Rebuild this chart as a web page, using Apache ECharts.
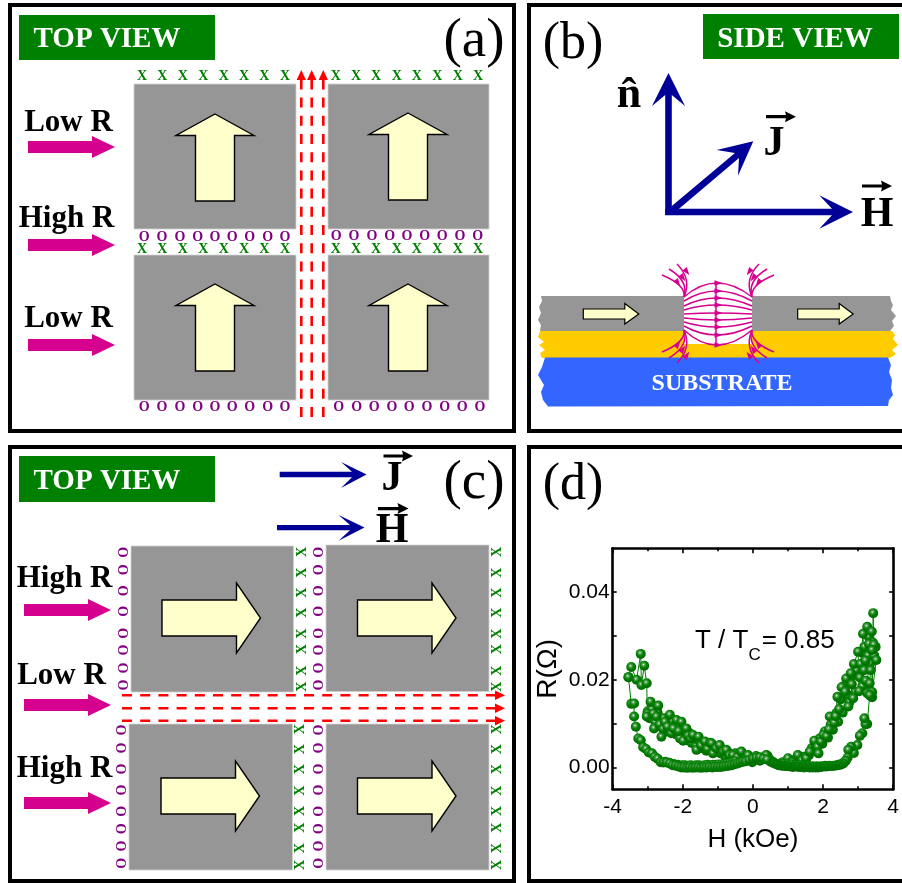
<!DOCTYPE html>
<html><head><meta charset="utf-8">
<style>html,body{margin:0;padding:0;background:#fff}#c{width:902px;height:883px}</style>
<script src="https://cdn.jsdelivr.net/npm/echarts@6/dist/echarts.min.js"></script>
</head><body><div id="c"></div>
<script>
// ---- data ----
const xTickValues = [-4, -2, 0, 2, 4];
const yTickLabels = [0, 0.02, 0.04];
const yTickMarks = [0, 0.01, 0.02, 0.03, 0.04];
const lowerLeftH = [-3.55,-3.47,-3.39,-3.39,-3.34,-3.27,-3.2,-3.13,-3.05,-2.97,-2.88,-2.8,-2.72,-2.63,-2.55,-2.46,-2.37,-2.29,-2.2,-2.12,-2.04,-1.96,-1.88,-1.8,-1.72,-1.64,-1.56,-1.48,-1.4,-1.32,-1.24,-1.16,-1.08,-1.0,-0.92,-0.84,-0.76,-0.68,-0.6,-0.52,-0.44,-0.36,-0.28,-0.2,-0.1,0.0,0.1,0.2,0.3,0.4];
const lowerLeftR = [0.0206,0.0145,0.0146,0.0116,0.0093,0.0066,0.0062,0.0046,0.0042,0.0034,0.0032,0.0024,0.002,0.0012,0.0011,0.0011,0.0009,0.0005,0.0004,0.0002,0.0,0.0,-0.0001,0.0,-0.0001,0.0,0.0,-0.0001,0.0,0.0,0.0001,0.0,0.0001,0.0001,0.0001,0.0002,0.0003,0.0004,0.0005,0.0007,0.0009,0.0011,0.0013,0.0014,0.0017,0.002,0.0022,0.0023,0.002,0.0018];
const bandLeftH = [-2.5,-2.38,-2.26,-2.14,-2.02,-1.94,-1.86,-1.78,-1.7,-1.62,-1.54,-1.46,-1.38,-1.3,-1.22,-1.14,-1.06,-0.98,-0.9,-0.82,-0.74,-0.66,-0.58,-0.5];
const bandLeftR = [0.0014,0.0012,0.0009,0.0007,0.0006,0.0006,0.0005,0.0006,0.0005,0.0006,0.0006,0.0005,0.0006,0.0007,0.0006,0.0007,0.0007,0.0008,0.0008,0.0009,0.001,0.0011,0.0013,0.0015];
const upperLeftH = [-3.55,-3.47,-3.32,-3.2,-3.18,-3.1,-3.03,-3.01,-3.03,-2.92,-2.84,-2.82,-2.75,-2.7,-2.66,-2.61,-2.56,-2.51,-2.44,-2.37,-2.33,-2.27,-2.18,-2.12,-2.04,-1.99,-1.9,-1.85,-1.78,-1.71,-1.61,-1.55,-1.48,-1.37,-1.3,-1.22,-1.18,-1.14,-1.05,-0.95,-0.85,-0.76,-0.67,-0.57,-0.45,-0.33,-0.24,-0.14,-0.02,0.09,0.2,0.38,0.48,0.57,0.72,0.85,1.0,1.12,1.28,1.4,1.52];
const upperLeftR = [0.0206,0.0229,0.02,0.0259,0.0188,0.0232,0.0192,0.0123,0.0116,0.015,0.0123,0.0089,0.0116,0.0141,0.0098,0.007,0.0088,0.0104,0.0093,0.012,0.0078,0.0089,0.0108,0.0083,0.0104,0.0061,0.0089,0.0072,0.0066,0.0074,0.004,0.007,0.005,0.0059,0.0042,0.0056,0.0055,0.0032,0.0044,0.0051,0.0036,0.004,0.0028,0.0028,0.0023,0.0036,0.0017,0.0028,0.0012,0.0026,0.0015,0.0028,0.0018,0.0013,0.0006,0.0012,0.0021,0.0012,0.0028,0.0016,0.0021];
const fillLeftH = [-3.0,-2.95,-2.88,-2.78,-2.72,-2.6,-2.55,-2.47,-2.4,-2.3,-2.22,-2.15,-2.08,-1.95,-1.88,-1.8,-1.75,-1.68,-1.62,-1.52,-1.45,-1.4,-1.33,-1.25,-1.2,-1.1,-1.0,-0.92,-0.88,-0.8,-0.7,-0.62,-0.5,-0.4,-0.3,-0.2,-0.1,0.02,0.15,0.3,0.42];
const fillLeftR = [0.0128,0.0112,0.0132,0.0103,0.0125,0.0091,0.0112,0.0082,0.0098,0.0106,0.0076,0.0095,0.0066,0.0082,0.0062,0.0078,0.0056,0.0066,0.0048,0.006,0.0044,0.0052,0.0038,0.0052,0.0042,0.0036,0.0044,0.0032,0.0042,0.0026,0.0034,0.0022,0.0032,0.0022,0.0028,0.0016,0.0022,0.002,0.0022,0.002,0.0026];
const upperRightH = [1.52,1.62,1.75,1.84,1.94,1.87,2.01,2.1,2.17,2.19,2.32,2.36,2.41,2.46,2.53,2.63,2.66,2.72,2.79,2.82,2.86,2.88,3.0,3.03,3.07,3.14,3.17,3.21,3.26,3.31,3.26,3.33,3.36,3.39,3.4,3.43,3.45,3.4,3.52,3.4,3.38,3.33];
const upperRightR = [0.0021,0.0036,0.0061,0.0047,0.0059,0.0032,0.0074,0.0071,0.0087,0.0116,0.0102,0.0117,0.0161,0.0133,0.0183,0.0173,0.0203,0.0139,0.0215,0.019,0.0158,0.0236,0.0264,0.0174,0.0236,0.0305,0.0222,0.0244,0.0321,0.0282,0.0169,0.0192,0.0222,0.031,0.016,0.0352,0.028,0.0268,0.0245,0.0172,0.0162,0.0165];
const fillRightH = [1.0,1.2,1.3,1.45,1.6,1.68,1.78,1.9,1.98,2.05,2.14,2.22,2.28,2.38,2.43,2.5,2.56,2.6,2.7,2.75,2.85,2.92,2.95,3.05,3.1,3.12,3.18,3.22,3.28,3.3,3.35,3.42,3.46,3.5];
const fillRightR = [0.0014,0.0018,0.0014,0.0024,0.0028,0.0044,0.0052,0.0066,0.0054,0.0082,0.0068,0.0098,0.0086,0.0124,0.0104,0.0155,0.0125,0.0186,0.0165,0.0148,0.021,0.0172,0.0222,0.0205,0.0262,0.0185,0.0275,0.0198,0.0255,0.0298,0.0238,0.0285,0.0255,0.0275];
const lowerRightH = [3.33,3.26,3.21,3.18,3.12,3.05,2.98,2.88,2.8,2.72,2.7,2.65,2.58,2.5,2.42,2.34,2.26,2.18,2.1,2.02,1.94,1.86,1.78,1.7,1.62,1.54,1.46,1.38,1.3,1.22,1.14,1.06,0.98,0.9,0.82,0.74,0.66,0.58,0.5];
const lowerRightR = [0.0165,0.0099,0.0099,0.0112,0.0078,0.0072,0.0051,0.0033,0.0047,0.004,0.0022,0.0015,0.0009,0.0006,0.0005,0.0004,0.0003,0.0003,0.0002,0.0002,0.0001,0.0,0.0,0.0,0.0,0.0001,0.0,0.0001,0.0001,0.0002,0.0001,0.0002,0.0003,0.0003,0.0004,0.0005,0.0007,0.001,0.0014];
const bandRightH = [0.5,0.62,0.74,0.86,0.98,1.1,1.22,1.34,1.46,1.58,1.7,1.82,1.94,2.06,2.18,2.3,2.42,2.54,2.62];
const bandRightR = [0.0012,0.001,0.0009,0.0009,0.0008,0.0008,0.0006,0.0006,0.0005,0.0005,0.0004,0.0004,0.0004,0.0005,0.0005,0.0005,0.0007,0.001,0.0014];
const pairs = (h, r) => h.map((v, i) => [v, r[i]]);

// ---- diagram layout, measured in page pixels ----
const FONT_SERIF = '"Liberation Serif"';
const GREEN = '#008000', PURPLE = '#800080', RED = '#ff0000', MAGENTA = '#d6008f', NAVY = '#000099', CREAM = '#ffffcc', GRAY = '#969696';
const els = [];
const poly = (points, fill, stroke, lw) => els.push({type:'polygon', silent:true, shape:{points}, style:{fill, stroke: stroke||'none', lineWidth: lw||0}});
const rect = (x0,y0,x1,y1,fill,stroke,lw) => els.push({type:'rect', silent:true, shape:{x:x0,y:y0,width:x1-x0,height:y1-y0}, style:{fill, stroke: stroke||'none', lineWidth: lw||0}});
const text = (t,x,y,size,color,opts) => {
  const turned = opts && opts.rotation;
  els.push(Object.assign({type:'text', silent:true, x: turned ? x+0.1*size : x, y: turned ? y : y+0.1*size,
    style:{text:t, fill:color, font:(opts&&opts.weight||'normal')+' '+size+'px '+FONT_SERIF, textAlign:'center', textVerticalAlign:'middle'}}, turned?{rotation:opts.rotation}:{}));
};
const base = (t,x,b,size,color,weight) => text(t,x,b-0.34*size,size,color,{weight});
const dashed = (x1,y1,x2,y2) => els.push({type:'line', silent:true, shape:{x1,y1,x2,y2}, style:{stroke:RED, lineWidth:2.6, lineDash:[10,8.2]}});

// panels
rect(10,5,514,431,'none','#000',4); rect(529,5,906,431,'none','#000',4);
rect(10,447,514,881,'none','#000',4); rect(529,447,906,881,'none','#000',4);
// labels
rect(19,15,215,60,GREEN); text('TOP VIEW',107,37,29,'#fff',{weight:'bold'});
rect(703,14,899,59,GREEN); text('SIDE VIEW',795,37,29,'#fff',{weight:'bold'});
rect(19,456,215,502,GREEN); text('TOP VIEW',107,479,29,'#fff',{weight:'bold'});
base('(a)',474,55,55,'#000'); base('(b)',573,57,52,'#000'); base('(c)',474,497,55,'#000'); base('(d)',573,498,52,'#000');

// magnets
[[134,84,296,229],[328,84,489,229],[134,255,296,400],[328,255,489,400],[131,546,293.5,692],[326,545,489,691.5],[129,724,292.5,870],[326,724,489,870]]
  .forEach(s => rect(s[0],s[1],s[2],s[3],GRAY,'#d0d0d0',0.8));
const upArrow = (cx,tip) => poly([[cx,tip],[cx+39,tip+21.5],[cx+19.5,tip+21.5],[cx+19.5,tip+87],[cx-19.5,tip+87],[cx-19.5,tip+21.5],[cx-39,tip+21.5]],CREAM,'#000',1.4);
upArrow(215,114); upArrow(408,113); upArrow(215,284); upArrow(408,284);
const rightArrow = (x,cy) => poly([[x,cy-18],[x+74.5,cy-18],[x+74.5,cy-35],[x+98.5,cy],[x+74.5,cy+35],[x+74.5,cy+18],[x,cy+18]],CREAM,'#000',1.4);
rightArrow(162,618); rightArrow(357.5,618); rightArrow(161,796); rightArrow(357.5,796);

// current lines
[301.3,311.7,323.3].forEach(x => { dashed(x,417,x,80); poly([[x,70],[x+4.7,80],[x-4.7,80]],RED); });
[695.3,708.3,720.7].forEach(y => { dashed(122,y,495,y); poly([[505,y],[495,y-4.7],[495,y+4.7]],RED); });

// resistance labels and pink arrows
const pink = (x0,xb,tip,cy) => poly([[x0,cy-6],[xb,cy-6],[xb,cy-11],[tip,cy],[xb,cy+11],[xb,cy+6],[x0,cy+6]],MAGENTA);
[['Low R',68.5,130,147],['High R',66.5,226,245],['Low R',68.5,326,345]].forEach(r => { base(r[0],r[1],r[2],31,'#000','bold'); pink(28,92,115,r[3]); });
[['High R',64.5,586,610],['Low R',61.5,683,705],['High R',64.5,776,803]].forEach(r => { base(r[0],r[1],r[2],31,'#000','bold'); pink(24,88,111,r[3]); });

// x and o rows, panel (a)
const row = (ch,color,y,xs) => xs.forEach(x => text(ch,x,y-1.4,14,color,{weight:'bold'}));
const xTop = [142,162.3,182.7,203.3,223.7,244,264.3,285], xTopR = [335.7,356,376,396.7,416.7,437.3,457.7,478];
const oL = [144.3,162,180,197.7,215,232.3,249.7,267.7,285];
row('X',GREEN,76.5,xTop); row('X',GREEN,76.5,xTopR);
row('O',PURPLE,237,oL); row('O',PURPLE,236.5,[336.3,354,372,389.7,407,424.7,442.3,460,477.7]);
row('X',GREEN,249.5,xTop); row('X',GREEN,249.5,xTopR);
row('O',PURPLE,407.5,[144.3,162,180,197.7,215,232.3,249.7,267.7,285]); row('O',PURPLE,407.5,[338.7,356.7,374.3,392,409.3,427,444.7,462.3,480]);
// x and o columns, panel (c), letters turned on their side
const col = (ch,color,x,ys) => ys.forEach(y => text(ch,x-1.4,y,14,color,{rotation:Math.PI/2, weight:'bold'}));
const oUp = [552.3,569.7,590.7,611.3,633.3,650,668,685], oLow = [730,748,769,790,811.3,828.7,846,863.3];
const xUp = [552,572.7,592.7,612.7,633.7,649.3,670.7,686.7], xLow = [729.3,749.3,769.3,790.7,811,827.7,848.3,865];
col('O',PURPLE,124,oUp); col('O',PURPLE,122.7,oLow); col('O',PURPLE,319.3,oUp); col('O',PURPLE,319.3,oLow);
col('X',GREEN,302,xUp); col('X',GREEN,300.7,xLow); col('X',GREEN,497.7,xUp); col('X',GREEN,497.7,xLow);

// vectors
const navyArrow = (pts) => poly(pts,NAVY);
navyArrow([[665.2,215],[665.2,95],[652,106],[668.5,73],[685,106],[671.8,95],[671.8,215]]);
navyArrow([[665.2,208.7],[832,208.7],[819.3,195.3],[853,212],[819.3,228.7],[832,215.3],[665.2,215.3]]);
navyArrow([[670,207.5],[735,153],[716.7,150],[753.3,141.3],[738,175.7],[739,158],[674,213]]);
navyArrow([[279.7,471.8],[352,471.8],[341,462],[366.6,474.5],[341,488],[352,477.2],[279.7,477.2]]);
navyArrow([[277,524.9],[350,524.9],[338.6,515],[364.5,527.6],[338.6,540.7],[350,530.3],[277,530.3]]);
// vector names
const over = (x0,x1,y) => poly([[x0,y-1.6],[x1-10,y-1.6],[x1-11,y-5.5],[x1,y],[x1-11,y+5.5],[x1-10,y+1.6],[x0,y+1.6]],'#000');
base('n\u0302',629,106,44,'#000','bold');
base('J',774,154,42,'#000','bold'); over(766,796,116.7);
base('H',877,225,42,'#000','bold'); over(862,892,186);
base('J',392,489,42,'#000','bold'); over(383.5,413,456);
base('H',392,541.5,42,'#000','bold'); over(378,408.5,508.6);

// side view layers
poly([[541,296],[684,296],[684,331],[540,331],[541,325],[538,320],[541,313],[539,307],[542,301]],GRAY);
poly([[752,296],[890,296],[891,301],[893,305],[891,310],[896,316],[892,321],[894,326],[890,331],[752,331]],GRAY);
poly([[540,331],[892,331],[895,335],[893,339],[898,345],[892,350],[896,354],[890,358],[542,358],[540,353],[545,350],[539,345],[544,342],[538,337]],'#ffcc00');
rect(684,331,752,344,'#fff');
poly([[545,357.5],[888,357.5],[891,365],[889,372],[892,380],[891,388],[893,395],[889,400],[888,406],[548,406.5],[543,400],[541,392],[544,385],[538,375],[542,367]],'#3366ff');
text('SUBSTRATE',722,381.5,24,'#fff',{weight:'bold'});
const smallArrow = (x) => poly([[x,309],[x+41.5,309],[x+41.5,303.5],[x+55.5,314],[x+41.5,324],[x+41.5,319],[x,319]],CREAM,'#000',1.2);
smallArrow(583.3); smallArrow(797.7);
// field lines
const curve = (x1,y1,cx,cy,x2,y2) => els.push({type:'bezierCurve', silent:true, shape:{x1,y1,x2,y2,cpx1:cx,cpy1:cy}, style:{stroke:MAGENTA, lineWidth:1.5, fill:'none'}});
const tri = (x,y,a,s) => { const c=Math.cos(a), d=Math.sin(a); poly([[x+s*c,y+s*d],[x-s*c-0.7*s*d,y-s*d+0.7*s*c],[x-s*c+0.7*s*d,y-s*d-0.7*s*c]],MAGENTA); };
const fieldEnds = [297,301,306,310,314,318,322,326,330], fieldMids = [283,291,298,305,313,320,327,335,345];
fieldEnds.forEach((e,i) => { const m = fieldMids[i]; curve(684,e,716,2*m-e,752,e); tri(718.5,m,0,4); });
curve(716,283,716,314,716,345);
[[662,275,686,285,678,283],[669,269,689,281,683,278],[677,264,692,279,687,272]].forEach(k => {
  [[1,1],[-1,1],[1,-1],[-1,-1]].forEach(s => {
    const mx = v => s[0]>0 ? v : 1436-v, my = v => s[1]>0 ? v : 627-v;
    curve(mx(684),my(297),mx(k[2]),my(k[3]),mx(k[0]),my(k[1]));
    tri(mx(k[4]),my(k[5]),Math.atan2(s[1]*0.8,s[0]*0.6),4);
  });
});
// annotation inside (d)
els.push({type:'text', silent:true, x:695, y:641, style:{text:'{a|T / T}{s|C}{a|= 0.85}', textVerticalAlign:'middle', fill:'#000',
  rich:{a:{font:'26px "Liberation Sans"', fill:'#000'}, s:{font:'17px "Liberation Sans"', fill:'#000', padding:[28,1,0,0]}}}});

// ---- chart ----
const ball = {type:'radial', x:0.42, y:0.38, r:0.6, colorStops:[{offset:0,color:'#d8ecd8'},{offset:0.25,color:'#4d9e4d'},{offset:0.55,color:GREEN},{offset:1,color:'#006a00'}]};
const line = (h,r,size) => ({type:'line', data:pairs(h,r), symbol:'circle', symbolSize:size, showSymbol:true, showAllSymbol:true, lineStyle:{color:GREEN,width:1}, itemStyle:{color:ball}, silent:true, animation:false, xAxisIndex:0, yAxisIndex:0});
const dots = (h,r,size) => Object.assign(line(h,r,size), {lineStyle:{width:0}});
const axisFont = {fontFamily:'"Liberation Sans"', fontSize:21, color:'#000'};
const chart = echarts.init(document.getElementById('c'), null, {renderer:'canvas'});
const boxLine = {show:true, onZero:false, lineStyle:{color:'#000', width:2.6}};
chart.setOption({
  animation:false,
  backgroundColor:'#fff',
  grid:{left:612.7, top:548.3, width:281.3, height:241, containLabel:false},
  xAxis:[
    {type:'value', position:'bottom', min:-4, max:4, interval:2, splitLine:{show:false}, axisLine:boxLine,
     axisTick:{show:true, inside:true, length:5, lineStyle:{color:'#000', width:1.6}},
     minorTick:{show:true, splitNumber:2, length:3, lineStyle:{color:'#000', width:1.6}},
     axisLabel:Object.assign({margin:7, customValues:xTickValues, formatter:v=>String(v)}, axisFont),
     name:'H (kOe)', nameLocation:'middle', nameGap:38, nameTextStyle:{fontFamily:'"Liberation Sans"', fontSize:26, color:'#000'}},
    {type:'value', position:'top', min:-4, max:4, interval:2, splitLine:{show:false}, axisLine:boxLine,
     axisTick:{show:true, inside:true, length:5, lineStyle:{color:'#000', width:1.6}},
     minorTick:{show:true, splitNumber:2, length:3, lineStyle:{color:'#000', width:1.6}},
     axisLabel:{show:false}}
  ],
  yAxis:[
    {type:'value', position:'left', min:-0.005, max:0.05, splitLine:{show:false}, axisLine:boxLine,
     axisTick:{show:true, inside:true, length:4, customValues:yTickMarks, lineStyle:{color:'#000', width:1.6}},
     axisLabel:Object.assign({margin:3, customValues:yTickLabels, formatter:v=>v.toFixed(2)}, axisFont),
     name:'R(\u03a9)', nameLocation:'middle', nameGap:50, nameTextStyle:{fontFamily:'"Liberation Sans"', fontSize:28, color:'#000'}},
    {type:'value', position:'right', min:-0.005, max:0.05, splitLine:{show:false}, axisLine:boxLine,
     axisTick:{show:true, inside:true, length:4, customValues:yTickMarks, lineStyle:{color:'#000', width:1.6}},
     axisLabel:{show:false}}
  ],
  series:[dots(fillLeftH,fillLeftR,10), dots(fillRightH,fillRightR,10), line(upperLeftH,upperLeftR,10), line(upperRightH,upperRightR,10), dots(bandLeftH,bandLeftR,9), dots(bandRightH,bandRightR,9), line(lowerRightH,lowerRightR,10), line(lowerLeftH,lowerLeftR,10)],
  graphic:{elements:els}
});
</script></body></html>
